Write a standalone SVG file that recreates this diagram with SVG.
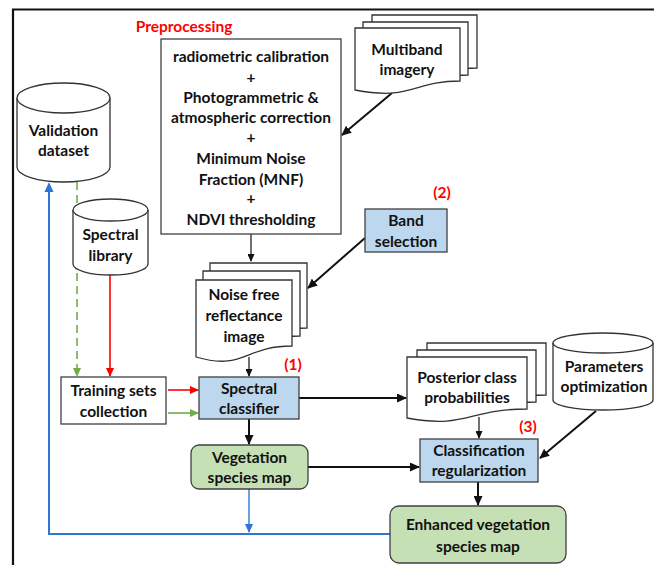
<svg xmlns="http://www.w3.org/2000/svg" width="654" height="565" viewBox="0 0 654 565">
<defs>
<style>
text{font-family:Lato,"Liberation Sans","DejaVu Sans",sans-serif;font-weight:bold;font-size:15.5px;fill:#111;text-anchor:middle}
.red{fill:#ff0000}
.box{fill:#fff;stroke:#404040;stroke-width:1.3}
.blue{fill:#bdd7ee;stroke:#404040;stroke-width:1.3}
.green{fill:#c5e0b4;stroke:#404040;stroke-width:1.3}
.doc{fill:#fff;stroke:#333;stroke-width:1.3}
.cyl{fill:#fff;stroke:#333;stroke-width:1.3}
.k{fill:none;stroke:#111;stroke-width:2;marker-end:url(#ak)}
.kt{fill:none;stroke:#111;stroke-width:1.2;marker-end:url(#aks)}
.r{fill:none;stroke:#ff0000;stroke-width:1.6;marker-end:url(#ar)}
.g{fill:none;stroke:#70ad47;stroke-width:1.6;marker-end:url(#ag)}
.gd{fill:none;stroke:#70ad47;stroke-width:1.6;stroke-dasharray:8 5;marker-end:url(#ag)}
.b{fill:none;stroke:#2e75d6;stroke-width:2}
.bt{fill:none;stroke:#2e75d6;stroke-width:1.4;marker-end:url(#ab)}
</style>
<marker id="ak" markerUnits="userSpaceOnUse" markerWidth="10" markerHeight="9" refX="9" refY="4.5" orient="auto"><path d="M0,0 L10,4.5 L0,9 z" fill="#111"/></marker>
<marker id="aks" markerUnits="userSpaceOnUse" markerWidth="8" markerHeight="7" refX="7" refY="3.5" orient="auto"><path d="M0,0 L8,3.5 L0,7 z" fill="#111"/></marker>
<marker id="ar" markerUnits="userSpaceOnUse" markerWidth="9" markerHeight="8" refX="8" refY="4" orient="auto"><path d="M0,0 L9,4 L0,8 z" fill="#ff0000"/></marker>
<marker id="ag" markerUnits="userSpaceOnUse" markerWidth="9" markerHeight="8" refX="8" refY="4" orient="auto"><path d="M0,0 L9,4 L0,8 z" fill="#70ad47"/></marker>
<marker id="ab" markerUnits="userSpaceOnUse" markerWidth="9" markerHeight="8" refX="8" refY="4" orient="auto"><path d="M0,0 L9,4 L0,8 z" fill="#2e75d6"/></marker>
</defs>
<rect width="654" height="565" fill="#fff"/>
<path d="M13,565 V9.5 H654" fill="none" stroke="#111" stroke-width="2.2"/>

<g id="connectors">
<path class="gd" d="M77,182 V376"/>
<path class="b" d="M390,534 H49 V190"/>
<path d="M49,182 L53.5,192 L44.5,192 z" fill="#2e75d6"/>
<path class="bt" d="M249,489 V532"/>
<path class="r" d="M110,275 V376"/>
<path class="r" d="M168,390 H198"/>
<path class="g" d="M168,413 H198"/>
<path class="k" d="M392,93 L342,135"/>
<path class="kt" d="M251,234 V261"/>
<path class="k" d="M365,238 L308,288"/>
<path class="kt" d="M249,357 V376"/>
<path class="k" d="M249,419 V444"/>
<path class="k" d="M299,398 H406"/>
<path class="k" d="M308,467 H419"/>
<path class="kt" d="M479,417 V438"/>
<path class="k" d="M596,411 L540,458"/>
<path class="k" d="M478,482 V505"/>
</g>

<g id="preprocessing">
<text class="red" x="184" y="32" font-size="16.5">Preprocessing</text>
<rect class="box" x="161" y="39" width="180" height="195"/>
<text x="251" y="62">radiometric calibration</text>
<text x="251" y="83">+</text>
<text x="251" y="103">Photogrammetric &amp;</text>
<text x="251" y="123">atmospheric correction</text>
<text x="251" y="143">+</text>
<text x="251" y="164">Minimum Noise</text>
<text x="251" y="185">Fraction (MNF)</text>
<text x="251" y="204">+</text>
<text x="251" y="225">NDVI thresholding</text>
</g>

<g id="multiband">
<path class="doc" d="M372,15 h105 v53 C429.5,68 429.5,88 372,77 Z"/>
<path class="doc" d="M363,22 h105 v53 C420.5,75 420.5,95 363,84 Z"/>
<path class="doc" d="M355,28 h105 v53 C412.5,81 412.5,101 355,90 Z"/>
<text x="407" y="55">Multiband</text>
<text x="407" y="75">imagery</text>
</g>

<g id="band-selection">
<text class="red" x="442" y="198">(2)</text>
<rect class="blue" x="365" y="209" width="82" height="43"/>
<text x="406" y="226">Band</text>
<text x="406" y="247">selection</text>
</g>

<g id="validation">
<path class="cyl" d="M17,98 A46.5,15 0 0 1 110,98 V167 A46.5,15 0 0 1 17,167 Z"/>
<path class="cyl" fill="none" d="M17,98 A46.5,15 0 0 0 110,98"/>
<text x="63.5" y="136">Validation</text>
<text x="63.5" y="156">dataset</text>
</g>

<g id="spectral-library">
<path class="cyl" d="M73,210 A37.5,11 0 0 1 148,210 V264 A37.5,11 0 0 1 73,264 Z"/>
<path class="cyl" fill="none" d="M73,210 A37.5,11 0 0 0 148,210"/>
<text x="110.5" y="240">Spectral</text>
<text x="110.5" y="261">library</text>
</g>

<g id="noise-free">
<path class="doc" d="M210,263 h97 v65 C258.5,328 258.5,353 210,339 Z"/>
<path class="doc" d="M203,271 h97 v65 C251.5,336 251.5,361 203,347 Z"/>
<path class="doc" d="M196,280 h96 v66 C244,346 244,371 196,357 Z"/>
<text x="244" y="300">Noise free</text>
<text x="244" y="321">reflectance</text>
<text x="244" y="342">image</text>
</g>

<g id="training-sets">
<rect class="box" x="61" y="377" width="105" height="47"/>
<text x="113.5" y="396">Training sets</text>
<text x="113.5" y="417">collection</text>
</g>

<g id="spectral-classifier">
<text class="red" x="293" y="370">(1)</text>
<rect class="blue" x="199" y="377" width="100" height="42"/>
<text x="249" y="394">Spectral</text>
<text x="249" y="414">classifier</text>
</g>

<g id="vegetation-map">
<rect class="green" x="191" y="445" width="117" height="44" rx="8"/>
<text x="249.5" y="463">Vegetation</text>
<text x="249.5" y="483">species map</text>
</g>

<g id="posterior">
<path class="doc" d="M427,343 h119 v52 C486.5,395 486.5,415 427,404 Z"/>
<path class="doc" d="M417,350 h119 v52 C476.5,402 476.5,422 417,411 Z"/>
<path class="doc" d="M407,357 h120 v52 C467,409 467,429 407,418 Z"/>
<text x="467" y="383">Posterior class</text>
<text x="467" y="403">probabilities</text>
</g>

<g id="parameters">
<path class="cyl" d="M553,343 A50,10 0 0 1 653,343 V400 A50,10 0 0 1 553,400 Z"/>
<path class="cyl" fill="none" d="M553,343 A50,10 0 0 0 653,343"/>
<text x="604" y="372">Parameters</text>
<text x="604" y="392">optimization</text>
</g>

<g id="classification-regularization">
<text class="red" x="528" y="432">(3)</text>
<rect class="blue" x="420" y="439" width="118" height="43"/>
<text x="479" y="456">Classification</text>
<text x="479" y="476">regularization</text>
</g>

<g id="enhanced-map">
<rect class="green" x="390" y="506" width="176" height="57" rx="9"/>
<text x="478" y="530">Enhanced vegetation</text>
<text x="478" y="552">species map</text>
</g>
</svg>
